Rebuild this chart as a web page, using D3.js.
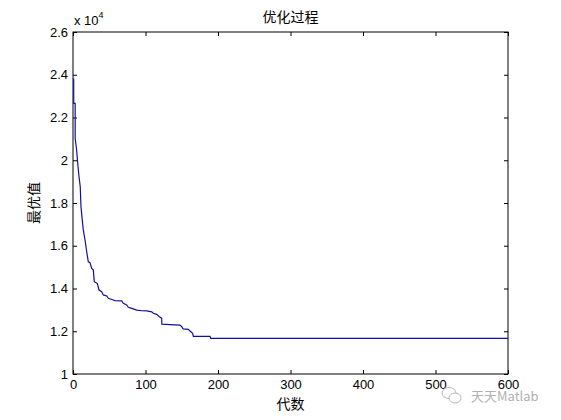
<!DOCTYPE html>
<html>
<head>
<meta charset="utf-8">
<script src="https://cdn.jsdelivr.net/npm/d3@7"></script>
<style>
  body { margin: 0; background: #fff; }
  svg text { font-family: "Liberation Sans", Arial, sans-serif; }
  .cjk { font-family: "Noto Sans CJK SC", sans-serif; }
</style>
</head>
<body>
<svg id="chart" width="561" height="420"></svg>
<script>
// values: generation and best value at the breakpoints
const gens = [1, 1, 3, 3, 5, 6.5, 8.3, 10, 11, 12.8, 14.2, 16.6, 18.9, 21.1, 23.4, 25.8, 28, 29.4,
  33.5, 35.9, 39.6, 41.8, 46.5, 48.7, 55.6, 57.9, 67.2, 69.4, 74, 76.3, 81, 87.9, 94.8, 101.7,
  108.6, 110.8, 115.4, 119, 122.3, 122.5, 133.8, 147.6, 150, 152, 159, 161.4, 165, 166, 189, 190, 600];
const bestValues = [23830, 22660, 22660, 21030, 20480, 19860, 19230, 18760, 17830, 17200, 16740,
  16270, 15720, 15250, 15210, 14940, 14870, 14320, 14240, 13930, 13850, 13700, 13650, 13540,
  13460, 13430, 13420, 13310, 13230, 13120, 13070, 12990, 12960, 12950, 12910, 12840, 12790,
  12680, 12610, 12330, 12310, 12290, 12210, 12110, 12090, 12010, 11900, 11760, 11760, 11670, 11670];
const xTicks = [0, 100, 200, 300, 400, 500, 600];
const yTicks = [10000, 12000, 14000, 16000, 18000, 20000, 22000, 24000, 26000];
const yTickLabels = ["1", "1.2", "1.4", "1.6", "1.8", "2", "2.2", "2.4", "2.6"];

const svg = d3.select("#chart");
const plotLeft = 73, plotRight = 508, plotTop = 32, plotBottom = 374;

const x = d3.scaleLinear().domain([0, 600]).range([plotLeft, plotRight]);
const y = d3.scaleLinear().domain([10000, 26000]).range([plotBottom, plotTop]);

function styleAxis(g) {
  g.select(".domain").remove();
  g.selectAll(".tick line").attr("stroke", "#000");
  g.selectAll(".tick text").attr("fill", "#000").attr("font-size", "13px");
}

svg.append("g")
  .attr("transform", `translate(0,${plotBottom})`)
  .call(d3.axisBottom(x).tickValues(xTicks).tickSizeInner(-4).tickSizeOuter(0).tickPadding(6))
  .call(styleAxis);
svg.append("g")
  .attr("transform", `translate(0,${plotTop})`)
  .call(d3.axisTop(x).tickValues(xTicks).tickSizeInner(-4).tickSizeOuter(0).tickFormat(""))
  .call(styleAxis);
svg.append("g")
  .attr("transform", `translate(${plotLeft},0)`)
  .call(d3.axisLeft(y).tickValues(yTicks).tickSizeInner(-4).tickSizeOuter(0).tickPadding(5)
    .tickFormat((d, i) => yTickLabels[i]))
  .call(styleAxis);
svg.append("g")
  .attr("transform", `translate(${plotRight},0)`)
  .call(d3.axisRight(y).tickValues(yTicks).tickSizeInner(-4).tickSizeOuter(0).tickFormat(""))
  .call(styleAxis);

svg.append("rect")
  .attr("x", plotLeft).attr("y", plotTop)
  .attr("width", plotRight - plotLeft).attr("height", plotBottom - plotTop)
  .attr("fill", "none").attr("stroke", "#000").attr("stroke-width", 1);

const line = d3.line()
  .x((d, i) => x(gens[i]))
  .y(d => y(d));

svg.append("path")
  .datum(bestValues)
  .attr("d", line)
  .attr("fill", "none")
  .attr("stroke", "#1010a0")
  .attr("stroke-width", 1.2);

// exponent label
const expo = svg.append("text").attr("x", 74).attr("y", 25).attr("font-size", "13px").attr("fill", "#000");
expo.append("tspan").text("x 10");
expo.append("tspan").attr("dy", -7).attr("font-size", "9px").text("4");

svg.append("text").attr("class", "cjk")
  .attr("x", (plotLeft + plotRight) / 2).attr("y", 22)
  .attr("text-anchor", "middle").attr("font-size", "14px")
  .text("优化过程");

svg.append("text").attr("class", "cjk")
  .attr("x", (plotLeft + plotRight) / 2).attr("y", 409)
  .attr("text-anchor", "middle").attr("font-size", "14px")
  .text("代数");

svg.append("text").attr("class", "cjk")
  .attr("transform", `translate(39,${(plotTop + plotBottom) / 2}) rotate(-90)`)
  .attr("text-anchor", "middle").attr("font-size", "14px")
  .text("最优值");

// watermark
const wm = svg.append("g").attr("fill", "none").attr("stroke", "#b8b8b8").attr("stroke-width", 1);
wm.append("ellipse").attr("cx", 449).attr("cy", 393).attr("rx", 7).attr("ry", 5.5);
wm.append("ellipse").attr("cx", 455).attr("cy", 398).attr("rx", 6).attr("ry", 5).attr("fill", "#fff");
svg.append("text").attr("class", "cjk")
  .attr("x", 471).attr("y", 401).attr("font-size", "13px").attr("fill", "#b0b0b0")
  .text("天天Matlab");
</script>
</body>
</html>
